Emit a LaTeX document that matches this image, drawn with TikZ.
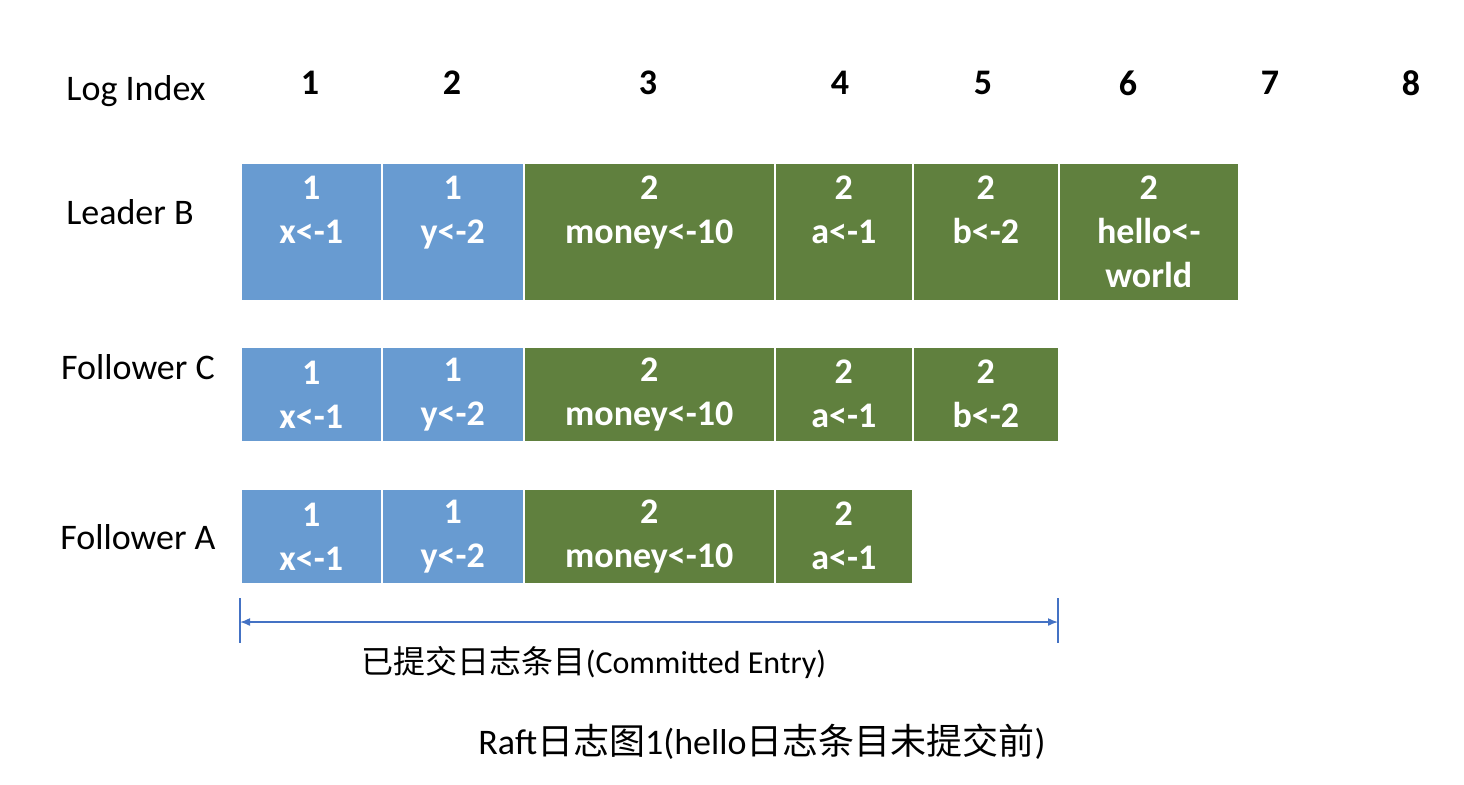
\documentclass[tikz,border=0pt]{standalone}
\usepackage{fontspec}
\setmainfont{Carlito}
\newfontfamily\cjk{Noto Sans CJK SC}
\usetikzlibrary{arrows.meta}

\definecolor{termone}{RGB}{104,155,209}
\definecolor{termtwo}{RGB}{96,128,62}
\definecolor{spanblue}{RGB}{68,114,196}

\tikzset{
  entry/.style={draw=white, line width=0.8pt, text=white, anchor=north west,
    font=\bfseries\fontsize{18}{22}\selectfont, align=center, inner sep=0pt},
  rowname/.style={font=\fontsize{18}{21}\selectfont},
  idxnum/.style={font=\bfseries\fontsize{18}{21}\selectfont},
  span/.style={spanblue, line width=0.75pt}
}

\begin{document}
\begin{tikzpicture}[x=0.5pt, y=-0.5pt, font=\fontsize{18}{21}\selectfont]
    \useasboundingbox (0,0) rectangle (1464,784);

    % Index row
    \node[rowname] (idx) at (136,91) {Log Index};
    \foreach \i/\x in {1/310, 2/452, 3/648, 4/840, 5/983, 6/1128, 7/1270, 8/1411}
        \node[idxnum] (n\i) at (\x,83) {\i};

    % Leader B
    \node[rowname] (lb) at (130,212) {Leader B};
    \foreach \nm/\x/\w/\c/\txt in {b1/240/70.5/termone/{1\\x<-1\\\phantom{world}},
                                   b2/381/71/termone/{1\\y<-2\\\phantom{world}},
                                   b3/523/125.5/termtwo/{2\\money<-10\\\phantom{world}},
                                   b4/774/69/termtwo/{2\\a<-1\\\phantom{world}},
                                   b5/912/73/termtwo/{2\\b<-2\\\phantom{world}},
                                   b6/1058/90/termtwo/{2\\hello<-\\world}}
        \node[entry, fill=\c, minimum width=\w pt, minimum height=69pt] (\nm) at (\x,162) {\txt};

    % Follower C
    \node[rowname] (fc) at (138,367) {Follower C};
    \foreach \nm/\x/\w/\c/\txt in {c1/240/70.5/termone/{1\\x<-1},
                                   c2/381/71/termone/{1\\y<-2},
                                   c3/523/125.5/termtwo/{2\\money<-10},
                                   c4/774/69/termtwo/{2\\a<-1},
                                   c5/912/73/termtwo/{2\\b<-2}}
        \node[entry, fill=\c, minimum width=\w pt, minimum height=47.5pt] (\nm) at (\x,346) {\txt};

    % Follower A
    \node[rowname] (fa) at (138,537) {Follower A};
    \foreach \nm/\x/\w/\c/\txt in {a1/240/70.5/termone/{1\\x<-1},
                                   a2/381/71/termone/{1\\y<-2},
                                   a3/523/125.5/termtwo/{2\\money<-10},
                                   a4/774/69/termtwo/{2\\a<-1}}
        \node[entry, fill=\c, minimum width=\w pt, minimum height=47.5pt] (\nm) at (\x,488) {\txt};

    % Committed span
    \coordinate (lt) at (240,598);
    \coordinate (lb2) at (240,643);
    \coordinate (rt) at (1058,598);
    \coordinate (rb) at (1058,643);
    \coordinate (la) at (240,622);
    \coordinate (ra) at (1058,622);
    \draw[span] (lt) -- (lb2);
    \draw[span] (rt) -- (rb);
    \draw[span, {Latex[length=5pt,width=4pt]}-{Latex[length=5pt,width=4pt]}] (la) -- (ra);
    \node[font=\fontsize{16}{19}\selectfont] (commit) at (594,662) {{\cjk 已提交日志条目}(Committed Entry)};

    % Caption
    \node (title) at (762,742) {Raft{\cjk 日志图}1(hello{\cjk 日志条目未提交前})};
\end{tikzpicture}
\end{document}
